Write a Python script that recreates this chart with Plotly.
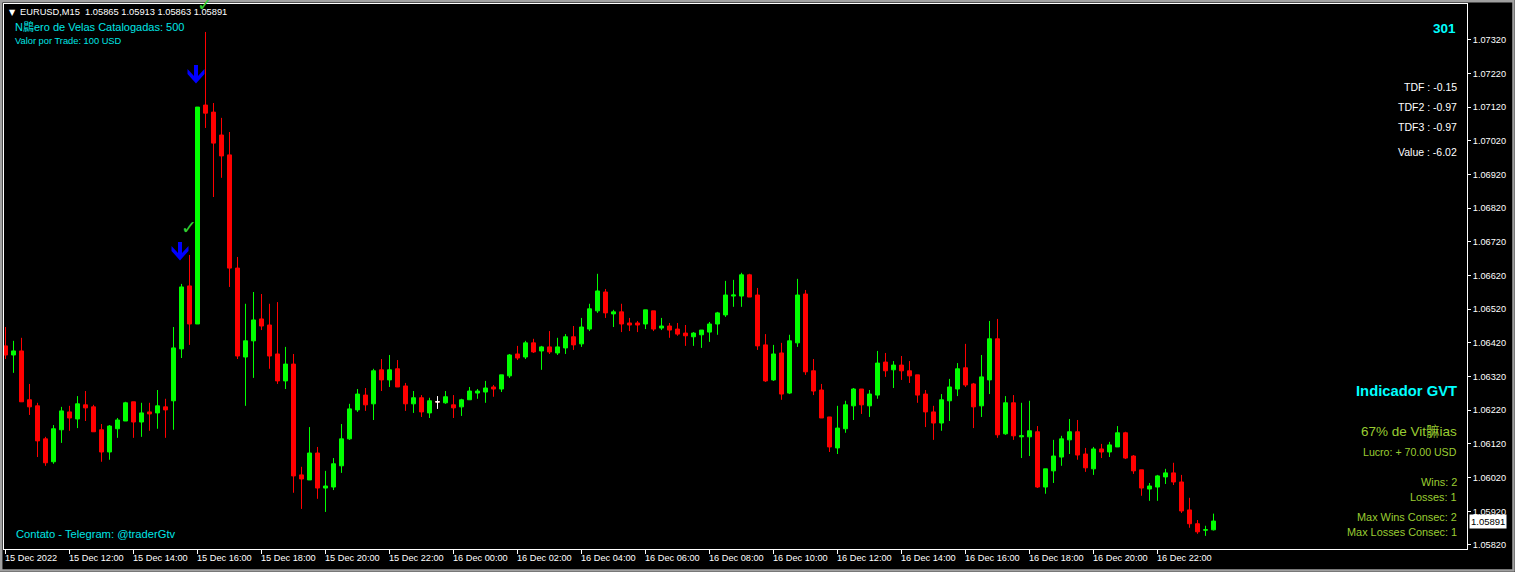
import pandas as pd
import plotly.graph_objects as go

# ---------------- data ----------------
times = pd.date_range("2022-12-15 10:00", periods=152, freq="15min")

opens = [
    1.06411, 1.06384, 1.06396, 1.06251, 1.06233, 1.06135, 1.06067, 1.06162, 1.06215, 1.06194,
    1.06236, 1.06230, 1.06162, 1.06096, 1.06165, 1.06188, 1.06245, 1.06185, 1.06215, 1.06212,
    1.06230, 1.06248, 1.06402, 1.06589, 1.06476, 1.07126, 1.07105, 1.07037, 1.06978, 1.06642,
    1.06378, 1.06426, 1.06491, 1.06473, 1.06387, 1.06307, 1.06357, 1.06028, 1.06013, 1.06093,
    1.05989, 1.05992, 1.06055, 1.06135, 1.06221, 1.06265, 1.06239, 1.06340, 1.06310, 1.06343,
    1.06292, 1.06239, 1.06257, 1.06212, 1.06245, 1.06242, 1.06236, 1.06230, 1.06251, 1.06271,
    1.06274, 1.06289, 1.06283, 1.06322, 1.06387, 1.06378, 1.06420, 1.06396, 1.06408, 1.06390,
    1.06405, 1.06438, 1.06417, 1.06461, 1.06515, 1.06571, 1.06506, 1.06512, 1.06479, 1.06479,
    1.06476, 1.06515, 1.06464, 1.06470, 1.06461, 1.06449, 1.06438, 1.06444, 1.06452, 1.06476,
    1.06503, 1.06559, 1.06559, 1.06622, 1.06562, 1.06414, 1.06310, 1.06390, 1.06271, 1.06420,
    1.06565, 1.06337, 1.06280, 1.06200, 1.06108, 1.06165, 1.06233, 1.06283, 1.06233, 1.06265,
    1.06363, 1.06340, 1.06354, 1.06337, 1.06325, 1.06268, 1.06215, 1.06182, 1.06248, 1.06283,
    1.06346, 1.06298, 1.06233, 1.06310, 1.06432, 1.06150, 1.06242, 1.06141, 1.06141, 1.06156,
    1.05992, 1.06040, 1.06081, 1.06132, 1.06156, 1.06090, 1.06046, 1.06105, 1.06096, 1.06111,
    1.06153, 1.06084, 1.06043, 1.05986, 1.05992, 1.06022, 1.06034, 1.06007, 1.05924, 1.05883,
    1.05864, 1.05865,
]
highs = [
    1.06467, 1.06426, 1.06435, 1.06298, 1.06242, 1.06141, 1.06176, 1.06230, 1.06233, 1.06262,
    1.06277, 1.06236, 1.06179, 1.06176, 1.06197, 1.06245, 1.06245, 1.06242, 1.06242, 1.06280,
    1.06254, 1.06467, 1.06595, 1.06681, 1.07120, 1.07343, 1.07132, 1.07088, 1.07046, 1.06675,
    1.06536, 1.06571, 1.06565, 1.06536, 1.06541, 1.06408, 1.06387, 1.06052, 1.06170, 1.06111,
    1.06040, 1.06078, 1.06179, 1.06239, 1.06283, 1.06286, 1.06343, 1.06372, 1.06384, 1.06369,
    1.06301, 1.06277, 1.06265, 1.06257, 1.06262, 1.06277, 1.06265, 1.06254, 1.06289, 1.06283,
    1.06307, 1.06295, 1.06325, 1.06387, 1.06411, 1.06426, 1.06432, 1.06411, 1.06455, 1.06435,
    1.06446, 1.06470, 1.06494, 1.06536, 1.06625, 1.06580, 1.06518, 1.06536, 1.06494, 1.06485,
    1.06518, 1.06515, 1.06494, 1.06479, 1.06479, 1.06473, 1.06452, 1.06458, 1.06482, 1.06512,
    1.06604, 1.06607, 1.06628, 1.06625, 1.06583, 1.06446, 1.06414, 1.06420, 1.06444, 1.06610,
    1.06577, 1.06372, 1.06298, 1.06200, 1.06233, 1.06248, 1.06286, 1.06283, 1.06280, 1.06396,
    1.06390, 1.06366, 1.06381, 1.06366, 1.06325, 1.06280, 1.06233, 1.06268, 1.06313, 1.06360,
    1.06417, 1.06301, 1.06384, 1.06485, 1.06491, 1.06262, 1.06265, 1.06242, 1.06248, 1.06173,
    1.06046, 1.06132, 1.06144, 1.06194, 1.06191, 1.06108, 1.06111, 1.06120, 1.06126, 1.06173,
    1.06156, 1.06087, 1.06043, 1.06004, 1.06028, 1.06046, 1.06064, 1.06028, 1.05960, 1.05894,
    1.05877, 1.05913,
]
lows = [
    1.06372, 1.06331, 1.06245, 1.06206, 1.06081, 1.06055, 1.06061, 1.06123, 1.06159, 1.06167,
    1.06188, 1.06156, 1.06067, 1.06073, 1.06138, 1.06188, 1.06138, 1.06141, 1.06159, 1.06165,
    1.06138, 1.06162, 1.06375, 1.06414, 1.06476, 1.07058, 1.06853, 1.06910, 1.06586, 1.06372,
    1.06233, 1.06316, 1.06458, 1.06343, 1.06298, 1.06283, 1.05975, 1.05927, 1.06013, 1.05957,
    1.05918, 1.05983, 1.06034, 1.06132, 1.06215, 1.06218, 1.06191, 1.06277, 1.06289, 1.06289,
    1.06218, 1.06212, 1.06200, 1.06197, 1.06224, 1.06239, 1.06197, 1.06203, 1.06251, 1.06254,
    1.06242, 1.06260, 1.06274, 1.06316, 1.06369, 1.06372, 1.06390, 1.06340, 1.06387, 1.06384,
    1.06387, 1.06399, 1.06408, 1.06455, 1.06509, 1.06494, 1.06467, 1.06452, 1.06455, 1.06452,
    1.06461, 1.06455, 1.06458, 1.06435, 1.06441, 1.06411, 1.06411, 1.06405, 1.06423, 1.06444,
    1.06497, 1.06527, 1.06527, 1.06556, 1.06399, 1.06304, 1.06307, 1.06251, 1.06268, 1.06408,
    1.06325, 1.06265, 1.06197, 1.06096, 1.06090, 1.06153, 1.06191, 1.06209, 1.06200, 1.06254,
    1.06319, 1.06286, 1.06310, 1.06301, 1.06242, 1.06170, 1.06132, 1.06159, 1.06188, 1.06262,
    1.06289, 1.06167, 1.06200, 1.06268, 1.06138, 1.06147, 1.06132, 1.06078, 1.06084, 1.05989,
    1.05972, 1.06004, 1.06055, 1.06090, 1.06073, 1.06037, 1.06028, 1.06078, 1.06081, 1.06111,
    1.06075, 1.06031, 1.05966, 1.05951, 1.05951, 1.06001, 1.05998, 1.05915, 1.05871, 1.05853,
    1.05847, 1.05863,
]
closes = [
    1.06384, 1.06396, 1.06245, 1.06230, 1.06129, 1.06064, 1.06165, 1.06218, 1.06197, 1.06239,
    1.06227, 1.06156, 1.06096, 1.06173, 1.06191, 1.06242, 1.06185, 1.06212, 1.06209, 1.06233,
    1.06221, 1.06405, 1.06586, 1.06476, 1.07120, 1.07102, 1.07013, 1.06975, 1.06642, 1.06381,
    1.06426, 1.06488, 1.06470, 1.06381, 1.06307, 1.06357, 1.06025, 1.06016, 1.06093, 1.05989,
    1.05995, 1.06061, 1.06135, 1.06224, 1.06268, 1.06236, 1.06337, 1.06310, 1.06340, 1.06289,
    1.06239, 1.06257, 1.06215, 1.06248, 1.06245, 1.06260, 1.06227, 1.06251, 1.06277, 1.06277,
    1.06286, 1.06283, 1.06325, 1.06384, 1.06375, 1.06420, 1.06393, 1.06408, 1.06393, 1.06408,
    1.06438, 1.06414, 1.06467, 1.06521, 1.06574, 1.06509, 1.06512, 1.06476, 1.06473, 1.06473,
    1.06518, 1.06461, 1.06470, 1.06458, 1.06446, 1.06441, 1.06449, 1.06458, 1.06476, 1.06509,
    1.06562, 1.06562, 1.06622, 1.06556, 1.06411, 1.06307, 1.06387, 1.06268, 1.06426, 1.06562,
    1.06334, 1.06277, 1.06197, 1.06111, 1.06167, 1.06236, 1.06283, 1.06236, 1.06268, 1.06360,
    1.06337, 1.06354, 1.06337, 1.06322, 1.06265, 1.06215, 1.06182, 1.06251, 1.06289, 1.06343,
    1.06295, 1.06230, 1.06319, 1.06432, 1.06147, 1.06242, 1.06144, 1.06144, 1.06159, 1.05992,
    1.06046, 1.06084, 1.06135, 1.06156, 1.06087, 1.06049, 1.06105, 1.06096, 1.06117, 1.06153,
    1.06078, 1.06040, 1.05989, 1.05995, 1.06025, 1.06034, 1.06007, 1.05921, 1.05883, 1.05859,
    1.05865, 1.05891,
]

y_ticks = [1.05820, 1.05920, 1.06020, 1.06120, 1.06220, 1.06320, 1.06420, 1.06520,
           1.06620, 1.06720, 1.06820, 1.06920, 1.07020, 1.07120, 1.07220, 1.07320]

x_tick_times = ["2022-12-15 10:00", "2022-12-15 12:00", "2022-12-15 14:00", "2022-12-15 16:00",
                "2022-12-15 18:00", "2022-12-15 20:00", "2022-12-15 22:00", "2022-12-16 00:00",
                "2022-12-16 02:00", "2022-12-16 04:00", "2022-12-16 06:00", "2022-12-16 08:00",
                "2022-12-16 10:00", "2022-12-16 12:00", "2022-12-16 14:00", "2022-12-16 16:00",
                "2022-12-16 18:00", "2022-12-16 20:00", "2022-12-16 22:00"]
x_tick_text = ["15 Dec 2022", "15 Dec 12:00", "15 Dec 14:00", "15 Dec 16:00", "15 Dec 18:00",
               "15 Dec 20:00", "15 Dec 22:00", "16 Dec 00:00", "16 Dec 02:00", "16 Dec 04:00",
               "16 Dec 06:00", "16 Dec 08:00", "16 Dec 10:00", "16 Dec 12:00", "16 Dec 14:00",
               "16 Dec 16:00", "16 Dec 18:00", "16 Dec 20:00", "16 Dec 22:00"]

sell_signals = [22, 24]     # candles with the blue down arrow
win_marks = [23, 25]        # candles with the green check

symbol = "EURUSD,M15"
n_candles = 500
trade_value = "100 USD"
counter = "301"
tdf_lines = ["TDF : -0.15", "TDF2 : -0.97", "TDF3 : -0.97", "Value : -6.02"]
win_rate = "67% de Vit" + bytes([0xF3, 0x72]).decode("gbk", errors="replace") + "ias"
profit = "Lucro: + 70.00 USD"
stats = ["Wins: 2", "Losses: 1", "Max Wins Consec: 2", "Max Losses Consec: 1"]
numero = "N" + bytes([0xFA, 0x6D]).decode("gbk", errors="replace") + "ero"

# ---------------- layout helpers (pixel -> paper) ----------------
W, H = 1515, 572
PL, PR, PT, PB = 4, 1467, 4, 549


def px(x):
    return (x - PL) / (PR - PL)


def py(y):
    return (PB - y) / (PB - PT)


FONT = "Liberation Sans, Arial, Noto Sans CJK SC, sans-serif"
CYAN = "#00E5E5"
YG = "#9ACD32"

fig = go.Figure()

fig.add_trace(go.Candlestick(
    x=times, open=opens, high=highs, low=lows, close=closes,
    increasing=dict(line=dict(color="#00FF00", width=1), fillcolor="#00FF00"),
    decreasing=dict(line=dict(color="#FF0000", width=1), fillcolor="#FF0000"),
    hoverinfo="skip", whiskerwidth=0,
))

doji = [i for i in range(len(opens)) if opens[i] == closes[i]]
fig.add_trace(go.Candlestick(
    x=[times[i] for i in doji], open=[opens[i] for i in doji], high=[highs[i] for i in doji],
    low=[lows[i] for i in doji], close=[closes[i] for i in doji],
    increasing=dict(line=dict(color="#FFFFFF", width=1), fillcolor="#FFFFFF"),
    decreasing=dict(line=dict(color="#FFFFFF", width=1), fillcolor="#FFFFFF"),
    hoverinfo="skip", whiskerwidth=0,
))

ann = []
shapes = []

# signal arrows (pixel-sized shape anchored at the candle high) and win checks
ARROW = "M -1.5,23.5 L 7,33 L 7,38 L 0.5,31 L 0.5,42 L -3.5,42 L -3.5,31 L -10,38 L -10,33 Z"
for i in sell_signals:
    shapes.append(dict(type="path", xref="x", yref="y", xsizemode="pixel", ysizemode="pixel",
                       xanchor=times[i], yanchor=highs[i], path=ARROW,
                       fillcolor="#0000FF", line=dict(width=0), layer="above"))
for i in win_marks:
    ann.append(dict(x=times[i], y=highs[i], xref="x", yref="y", yshift=28, xshift=-1, showarrow=False,
                    text="✓", font=dict(family="DejaVu Sans", size=19, color="#32CD32")))


def txt(text, x, y, anchor, size, color, bold=False, family=FONT):
    ann.append(dict(x=px(x), y=py(y), xref="paper", yref="paper", xanchor=anchor, yanchor="middle",
                    showarrow=False, text=("<b>%s</b>" % text) if bold else text,
                    font=dict(family=family, size=size, color=color), borderpad=0))


txt("▼", 8, 12.5, "left", 8, "white", family="DejaVu Sans")
header = "%s  %.5f %.5f %.5f %.5f" % (symbol, opens[-1], highs[-1], lows[-1], closes[-1])
txt(header, 19, 12.5, "left", 9.3, "white")
txt("%s de Velas Catalogadas: %d" % (numero, n_candles), 14, 27, "left", 11, CYAN)
txt("Valor por Trade: %s" % trade_value, 14, 41, "left", 9.3, CYAN)
txt(counter, 1457, 28, "right", 13.5, "#00FFFF", bold=True)
for t, y in zip(tdf_lines, [87.3, 107.3, 127.3, 152.3]):
    txt(t, 1458, y, "right", 10.5, "white")
txt("Indicador GVT", 1458, 390.7, "right", 14.8, "#00FFFF", bold=True)
txt(win_rate, 1458, 431.7, "right", 13.5, YG)
txt(profit, 1458, 452, "right", 10.6, YG)
for t, y in zip(stats, [482, 497, 516.7, 532.3]):
    txt(t, 1458, y, "right", 10.9, YG)
txt("Contato - Telegram: @traderGtv", 15, 534, "left", 11.2, CYAN)

# time-axis labels: left-aligned just right of each tick, as in the terminal
for t, lab in zip(x_tick_times, x_tick_text):
    ann.append(dict(x=t, y=py(558), xref="x", yref="paper", xanchor="left", yanchor="middle",
                    xshift=-2, showarrow=False, text=lab, borderpad=0,
                    font=dict(family=FONT, size=9.2, color="white")))

# current price label
ann.append(dict(x=px(1469), y=closes[-1], xref="paper", yref="y", xanchor="left", yanchor="middle",
                showarrow=False, text="%.5f" % closes[-1], bgcolor="white",
                font=dict(family=FONT, size=9.5, color="black"), borderpad=1))

shapes.append(dict(type="rect", xref="paper", yref="paper", x0=px(1.2), x1=px(W - 1.5), y0=py(1.2),
                   y1=py(H - 1.5), line=dict(color="#A0A0A0", width=2.5), layer="above"))

fig.update_layout(
    width=W, height=H,
    margin=dict(l=PL, r=W - PR, t=PT, b=H - PB),
    paper_bgcolor="black", plot_bgcolor="black",
    showlegend=False, boxgap=0.5, boxgroupgap=0,
    font=dict(family=FONT, color="white", size=9),
    annotations=ann, shapes=shapes,
    xaxis=dict(type="date", range=["2022-12-15 09:57:11.25", "2022-12-17 07:40:18.75"],
               rangeslider=dict(visible=False), showgrid=False, zeroline=False,
               showline=True, mirror=True, linecolor="white", linewidth=1,
               tickmode="array", tickvals=x_tick_times, showticklabels=False,
               ticks="outside", ticklen=4, tickcolor="white", tickwidth=1),
    yaxis=dict(side="right", range=[1.05808, 1.07426], showgrid=False, zeroline=False,
               showline=True, mirror=True, linecolor="white", linewidth=1,
               tickmode="array", tickvals=y_ticks, ticktext=["%.5f" % v for v in y_ticks],
               ticks="outside", ticklen=3, tickcolor="white", tickwidth=1,
               tickfont=dict(family=FONT, size=9.2, color="white")),
)

fig.write_html("out.html", config={"displayModeBar": False, "staticPlot": True},
               post_script="document.body.style.margin='0';document.body.style.background='black';")
